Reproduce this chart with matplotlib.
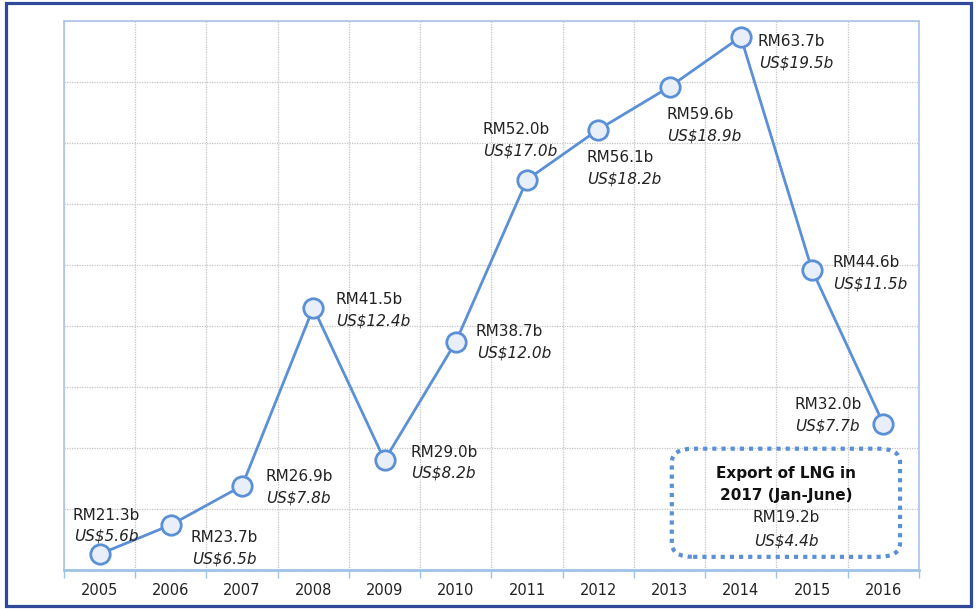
import matplotlib
matplotlib.use("Agg")
import matplotlib.pyplot as plt
from matplotlib.patches import FancyBboxPatch, Rectangle

years = ["2005", "2006", "2007", "2008", "2009", "2010",
         "2011", "2012", "2013", "2014", "2015", "2016"]
rm_values = [21.3, 23.7, 26.9, 41.5, 29.0, 38.7, 52.0, 56.1, 59.6, 63.7, 44.6, 32.0]
usd_values = [5.6, 6.5, 7.8, 12.4, 8.2, 12.0, 17.0, 18.2, 18.9, 19.5, 11.5, 7.7]

# label placement, pixels from the point (dx, dy of the RM line)
label_offsets = [(-27, 39), (20, -13), (23, 9), (22, 8), (26, 8), (20, 10),
                 (-45, 50), (-12, -28), (-3, -28), (17, -5), (20, 7), (-89, 19)]

box_title = "Export of LNG in\n2017 (Jan-June)"
box_rm = "RM19.2b"
box_usd = "US$4.4b"

line_col = "#5B8FD6"
plt.rcParams["font.family"] = ["DejaVu Sans"]

fig = plt.figure(figsize=(9.77, 6.09), dpi=100)
ax = fig.add_axes([0.0655, 0.064, 0.875, 0.9015])

x = list(range(len(years)))
ax.plot(x, rm_values, color=line_col, lw=2, marker="o", markersize=14,
        markerfacecolor="#E8EFF9", markeredgecolor=line_col, markeredgewidth=2,
        zorder=3)

for i, (rm, usd) in enumerate(zip(rm_values, usd_values)):
    dx, dy = label_offsets[i]
    ax.annotate(f"RM{rm:.1f}b", (i, rm), xytext=(dx, dy), textcoords="offset pixels",
                ha="left", va="center", fontsize=11, color="#222222")
    ax.annotate(f"US${usd:.1f}b", (i, rm), xytext=(dx + 1, dy - 21),
                textcoords="offset pixels", ha="left", va="center",
                fontsize=11, style="italic", color="#222222")

ax.set_xlim(-0.5, 11.5)
ax.set_ylim(20, 65)
ax.set_yticks(range(20, 66, 5))
ax.set_yticklabels([])
ax.tick_params(axis="y", length=0)
ax.set_xticks(x)
ax.set_xticklabels(years, fontsize=10.5, color="#222222")
ax.tick_params(axis="x", which="major", length=0, pad=9)
ax.set_xticks([i - 0.5 for i in range(len(years) + 1)], minor=True)
ax.tick_params(axis="x", which="minor", length=6, color="#9DC3E6", width=1)

ax.grid(True, which="major", axis="y", color="#C4C4C4", ls=(0, (1, 1)), lw=0.9)
ax.grid(True, which="minor", axis="x", color="#C4C4C4", ls=(0, (1, 1)), lw=0.9)

for side in ["top", "left", "right"]:
    ax.spines[side].set_color("#A9C4E8")
    ax.spines[side].set_linestyle((0, (1, 1)))
    ax.spines[side].set_linewidth(1.2)
ax.spines["bottom"].set_color("#9DC3E6")
ax.spines["bottom"].set_linewidth(2)

box = FancyBboxPatch((0.711, 0.024), 0.267, 0.197, transform=ax.transAxes,
                     boxstyle="round,pad=0,rounding_size=0.025",
                     fill=False, edgecolor=line_col,
                     lw=3, ls=(0, (1, 1.2)), zorder=4)
ax.add_patch(box)
ax.text(0.845, 0.156, box_title, transform=ax.transAxes, ha="center", va="center",
        fontsize=11, fontweight="bold", color="#111111", linespacing=1.6, zorder=5)
ax.text(0.845, 0.095, box_rm, transform=ax.transAxes, ha="center", va="center",
        fontsize=11, color="#222222", zorder=5)
ax.text(0.845, 0.053, box_usd, transform=ax.transAxes, ha="center", va="center",
        fontsize=11, style="italic", color="#222222", zorder=5)

frame = Rectangle((0.006, 0.005), 0.988, 0.99, transform=fig.transFigure,
                  fill=False, edgecolor="#2F4A9B", lw=2.3)
fig.patches.append(frame)

fig.savefig("out.png", dpi=100)
